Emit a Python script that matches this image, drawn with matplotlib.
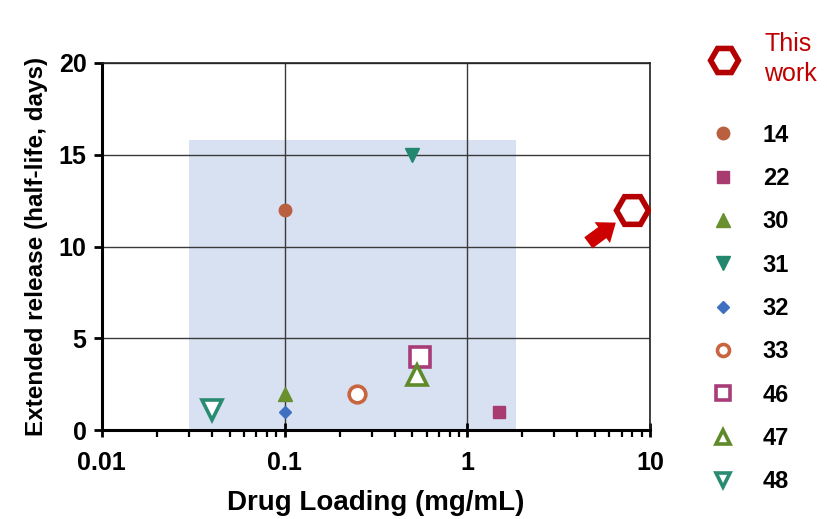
import matplotlib.pyplot as plt
from matplotlib.patches import Rectangle
from matplotlib.lines import Line2D
from matplotlib.ticker import LogLocator, NullFormatter, FixedLocator, FixedFormatter

plt.rcParams['font.family'] = ['Liberation Sans', 'DejaVu Sans']

# reference data
refs = ['14', '22', '30', '31', '32', '33', '46', '47', '48']
loading = [0.1, 1.5, 0.1, 0.5, 0.1, 0.25, 0.55, 0.53, 0.04]
halflife = [12, 1, 2, 15, 1, 2, 4, 3, 1.1]
markers = ['o', 's', '^', 'v', 'D', 'o', 's', '^', 'v']
colors = ['#b8603f', '#a83c70', '#6a8f2e', '#23876f', '#3f6fc0',
          '#c8653f', '#a83c78', '#5f8a2a', '#2a8b73']
hollow = [False, False, False, False, False, True, True, True, True]

# this work
this_x = 8
this_y = 12

# shaded region (loading range, half-life range)
region_x = [0.03, 1.85]
region_y = [0, 15.8]

fig = plt.figure(figsize=(8.28, 5.19), dpi=100)
ax = fig.add_axes([0.123, 0.171, 0.662, 0.708])

ax.add_patch(Rectangle((region_x[0], region_y[0]), region_x[1] - region_x[0],
                       region_y[1] - region_y[0], facecolor='#d7e1f1',
                       edgecolor='none', zorder=0))

ax.plot([this_x], [this_y], 'H', ms=23, mfc='white', mec='#b40000',
        mew=4, linestyle='none', zorder=5)
this_handle = Line2D([], [], marker='H', ms=20, mfc='white', mec='#b40000',
                     mew=4, linestyle='none', label='This\nwork')

handles = []
for name, x, y, m, c, o in zip(refs, loading, halflife, markers, colors, hollow):
    if o:
        ms = 14 if m != 'o' else 12
        ax.plot([x], [y], m, ms=ms, mfc='white', mec=c, mew=2.6,
                linestyle='none', zorder=4)
        handles.append(Line2D([], [], marker=m, ms=ms * 0.72, mfc='white', mec=c,
                              mew=2.6, linestyle='none', label=name))
    else:
        ms = {'o': 9, 's': 9, '^': 10, 'v': 10, 'D': 6.5}[m]
        ax.plot([x], [y], m, ms=ms, color=c, linestyle='none', zorder=4)
        handles.append(Line2D([], [], marker=m, ms=ms, color=c,
                              linestyle='none', label=name))

ax.annotate('', xy=(6.5, 11.3), xytext=(4.6, 10.2),
            arrowprops=dict(arrowstyle='simple,head_length=0.55,head_width=0.85,tail_width=0.45',
                            mutation_scale=22, color='#cc0000', lw=0, shrinkA=0, shrinkB=0),
            zorder=6)

ax.set_xscale('log')
ax.set_xlim(0.01, 10)
ax.set_ylim(0, 20)
ax.xaxis.set_major_locator(FixedLocator([0.01, 0.1, 1, 10]))
ax.xaxis.set_major_formatter(FixedFormatter(['0.01', '0.1', '1', '10']))
ax.xaxis.set_minor_locator(LogLocator(base=10, subs=range(2, 10)))
ax.xaxis.set_minor_formatter(NullFormatter())
ax.set_yticks([0, 5, 10, 15, 20])

ax.grid(True, which='major', color='#3a3a3a', lw=1.0, zorder=1)
ax.set_axisbelow(True)

for s in ['left', 'bottom']:
    ax.spines[s].set_linewidth(2.2)
for s in ['top', 'right']:
    ax.spines[s].set_linewidth(1.2)
    ax.spines[s].set_color('#222222')

ax.tick_params(axis='x', which='major', direction='inout', length=10, width=2, labelsize=18, pad=10)
ax.tick_params(axis='x', which='minor', direction='out', length=5, width=1.6)
ax.tick_params(axis='y', which='major', direction='out', length=6, width=2, labelsize=18, pad=5)
for lab in ax.get_xticklabels() + ax.get_yticklabels():
    lab.set_fontweight('bold')

ax.set_xlabel('Drug Loading (mg/mL)', fontsize=20, fontweight='bold', labelpad=11)
ax.set_ylabel('Extended release (half-life, days)', fontsize=17.5, fontweight='bold', labelpad=8)

# legend for this work (top) and for the literature references below it
leg0 = ax.legend(handles=[this_handle], loc='center left', bbox_to_anchor=(1.085, 1.01),
                 frameon=False, fontsize=18, handletextpad=0.9, handlelength=1.4,
                 borderaxespad=0)
t0 = leg0.get_texts()[0]
t0.set_color('#c00000')
t0.set_linespacing(1.35)
ax.add_artist(leg0)

leg = ax.legend(handles=handles, loc='upper left', bbox_to_anchor=(1.085, 0.86),
                frameon=False, fontsize=17, labelspacing=0.86, handletextpad=1.0,
                handlelength=1.4, borderaxespad=0)
for t in leg.get_texts():
    t.set_fontweight('bold')

fig.savefig('out.png', dpi=100)
